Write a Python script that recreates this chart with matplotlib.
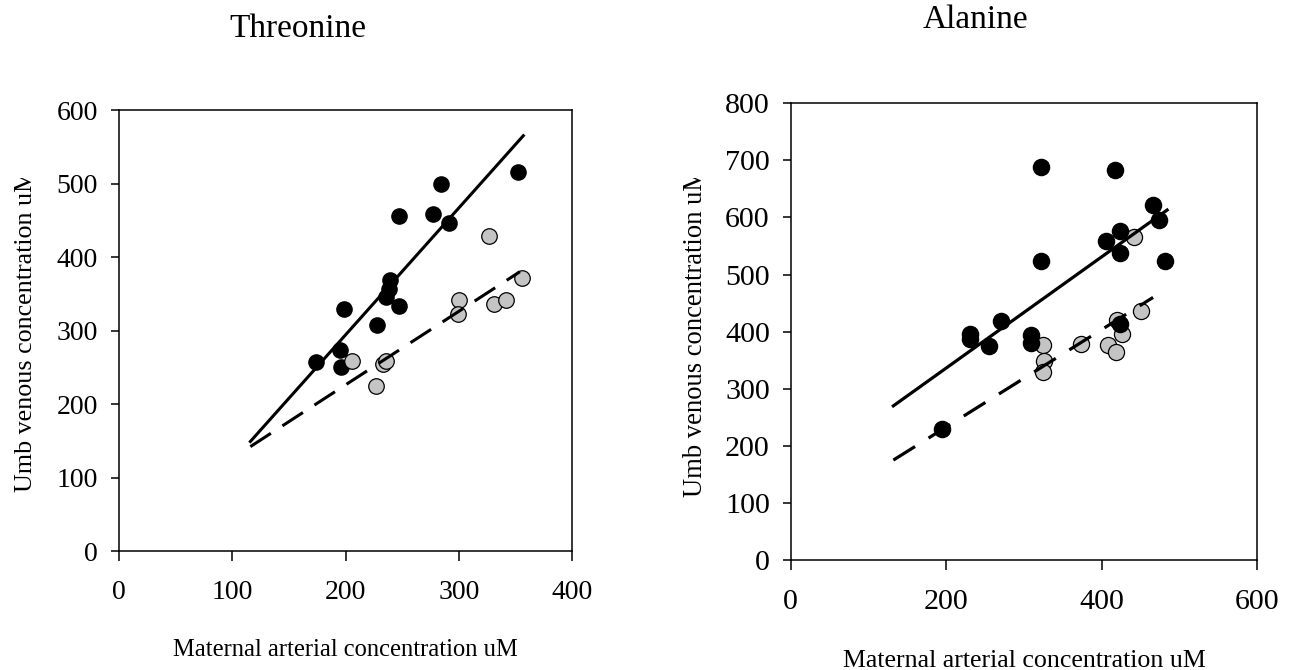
import matplotlib
matplotlib.use("Agg")
import matplotlib.pyplot as plt
from matplotlib.transforms import Bbox, TransformedBbox

plt.rcParams["font.family"] = ["Liberation Serif", "DejaVu Serif"]

# Threonine panel (black = filled, grey = open-ish points)
thr_black_x = [352, 284, 247, 277, 291, 239, 238, 236, 247, 199, 228, 195, 174, 196]
thr_black_y = [516, 500, 456, 459, 446, 369, 357, 346, 334, 329, 307, 273, 257, 251]
thr_grey_x = [327, 356, 300, 299, 331, 342, 206, 233, 236, 227]
thr_grey_y = [428, 372, 341, 323, 336, 341, 258, 255, 258, 224]
thr_solid_x = [116, 357]
thr_solid_y = [149, 565]
thr_dash_x = [116, 354]
thr_dash_y = [142, 380]

# Alanine panel
ala_black_x = [322, 417, 466, 473, 424, 406, 423, 481, 322, 270, 231, 231, 255, 309, 309, 424, 194]
ala_black_y = [689, 683, 621, 596, 576, 558, 537, 524, 523, 419, 396, 388, 375, 394, 380, 413, 230]
ala_grey_x = [441, 450, 419, 426, 324, 326, 324, 373, 408, 418]
ala_grey_y = [566, 436, 421, 396, 376, 348, 330, 378, 377, 364]
ala_solid_x = [132, 484]
ala_solid_y = [270, 613]
ala_dash_x = [132, 466]
ala_dash_y = [175, 460]

titles = ["Threonine", "Alanine"]
xlabel = "Maternal arterial concentration uM"
ylabel = "Umb venous concentration uM"

fig = plt.figure(figsize=(13, 6.7), dpi=100)
ax1 = fig.add_axes([0.09154, 0.17761, 0.34846, 0.65821])
ax2 = fig.add_axes([0.60823, 0.16418, 0.35892, 0.68164])

grey = "#c4c4c4"


def style_axes(ax, xmax, xstep, ymax, tick_fs, xlab_fs, ylab_fs, lab_y):
    ax.set_xlim(0, xmax)
    ax.set_ylim(0, ymax)
    ax.set_xticks(range(0, xmax + 1, xstep))
    ax.set_yticks(range(0, ymax + 1, 100))
    for s in ax.spines.values():
        s.set_linewidth(1.1)
    ax.tick_params(axis="x", direction="out", length=7, width=1.1, pad=14, labelsize=tick_fs)
    ax.tick_params(axis="y", direction="out", length=6, width=1.1, pad=9, labelsize=tick_fs)
    ax.set_xlabel(xlabel, fontsize=xlab_fs)
    ax.xaxis.label.set_va("baseline")
    ax.xaxis.set_label_coords(0.5, lab_y)
    ax.set_ylabel(ylabel, fontsize=ylab_fs)
    ax.yaxis.label.set_va("baseline")
    ax.yaxis.set_label_coords(-0.191, 0.5)
    # the original cuts the top of the y label off
    lab = ax.yaxis.label
    lab.set_clip_box(TransformedBbox(Bbox([[0, 0], [1, 1 - 178 / 670]]), fig.transFigure))
    lab.set_clip_on(True)


# left panel
ax1.scatter(thr_black_x, thr_black_y, s=120, c="black", zorder=2)
ax1.scatter(thr_grey_x, thr_grey_y, s=125, c=grey, edgecolors="black", linewidths=0.9, zorder=2)
ax1.plot(thr_solid_x, thr_solid_y, color="black", lw=2.2, zorder=3)
ax1.plot(thr_dash_x, thr_dash_y, color="black", lw=2.2, dashes=(8, 4.5), zorder=3)
style_axes(ax1, 400, 100, 600, 20, 17.7, 18.7, -0.238)

# right panel
ax2.scatter(ala_grey_x, ala_grey_y, s=135, c=grey, edgecolors="black", linewidths=0.9, zorder=2)
ax2.scatter(ala_black_x, ala_black_y, s=135, c="black", zorder=2)
ax2.plot(ala_solid_x, ala_solid_y, color="black", lw=2.3, zorder=3)
ax2.plot(ala_dash_x, ala_dash_y, color="black", lw=2.3, dashes=(8, 5), zorder=3)
style_axes(ax2, 600, 200, 800, 21.6, 18.6, 19.2, -0.234)

fig.text(298 / 1300, 1 - 36.7 / 670, titles[0], ha="center", va="baseline", fontsize=24)
fig.text(975 / 1300, 1 - 28.3 / 670, titles[1], ha="center", va="baseline", fontsize=24)

fig.savefig("out.png", dpi=100)
